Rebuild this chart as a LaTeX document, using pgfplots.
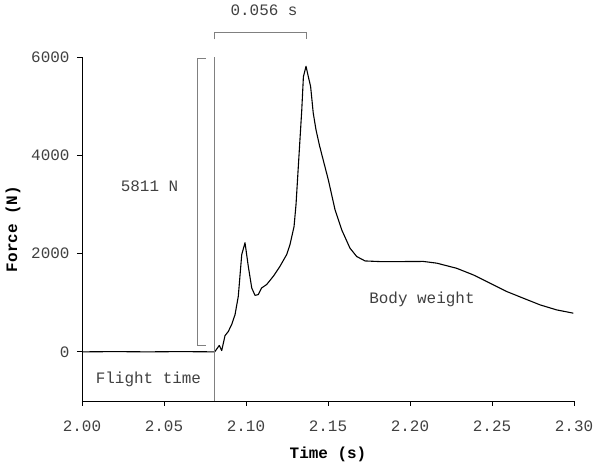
\documentclass[border=0pt]{standalone}
\usepackage{pgfplots}
\pgfplotsset{compat=1.18}
\usepackage{fontspec}
\setmainfont{Liberation Mono}

\newcommand\fs{\fontsize{16}{19}\selectfont}

\begin{document}
\begin{tikzpicture}
\begin{axis}[
    scale only axis,
    width=492bp, height=344bp,
    xmin=2.0, xmax=2.3, ymin=-1000, ymax=6000,
    axis lines*=left,
    axis line style={black, line width=0.8bp},
    xtick={2.00,2.05,...,2.30},
    ytick={0,2000,4000,6000},
    tick align=outside,
    major tick length=5bp,
    tick style={black, line width=0.8bp},
    xticklabel style={yshift=-11bp, /pgf/number format/.cd, fixed, fixed zerofill, precision=2},
    yticklabel style={xshift=-4bp, /pgf/number format/1000 sep={}},
    /pgf/number format/assume math mode=true,
    ticklabel style={font=\fs, text=black!75},
    xlabel={\bfseries Time (s)},
    ylabel={\bfseries Force (N)},
    label style={font=\fs},
    xlabel style={yshift=-9bp},
    ylabel style={yshift=4bp},
    clip=false,
]
\addplot[black, line width=1.1bp, line join=round] coordinates {
(2.000,0) (2.020,5) (2.040,0) (2.060,5) (2.0809,0) (2.0837,130) (2.0852,27)
(2.0872,330) (2.0892,414) (2.0913,560) (2.0933,755) (2.0953,1130) (2.0974,1980)
(2.0994,2220) (2.1014,1740) (2.1035,1300) (2.1055,1150) (2.1075,1165) (2.1095,1300)
(2.1126,1370) (2.1167,1540) (2.1207,1740) (2.1248,1980) (2.1268,2180) (2.1293,2550)
(2.1305,3000) (2.1319,3770) (2.1340,4920) (2.1350,5600) (2.1366,5811) (2.1380,5600)
(2.1394,5400) (2.1410,4860) (2.1427,4515) (2.1448,4200) (2.1468,3940) (2.1502,3500)
(2.1543,2890) (2.1584,2480) (2.1634,2110) (2.1675,1940) (2.1726,1850) (2.1817,1837)
(2.1939,1837) (2.2081,1840) (2.2163,1805) (2.2285,1700) (2.2386,1566) (2.2488,1397)
(2.2590,1227) (2.2691,1092) (2.2793,956) (2.2894,854) (2.2996,787)
};
% flight time marker and brackets
\draw[gray, line width=0.8bp] (axis cs:2.0809,-1000) -- (axis cs:2.0809,6000);
\draw[gray, line width=0.8bp] (axis cs:2.0756,5970) -- (axis cs:2.0703,5970)
    -- (axis cs:2.0703,122) -- (axis cs:2.0756,122);
\draw[gray, line width=0.8bp] (axis cs:2.0809,6360) -- (axis cs:2.0809,6494)
    -- (axis cs:2.1366,6494) -- (axis cs:2.1366,6360);
\node[font=\fs, text=black!75] at (axis cs:2.111,6942) {0.056 s};
\node[font=\fs, text=black!75] at (axis cs:2.0412,3376) {5811 N};
\node[font=\fs, text=black!75] at (axis cs:2.0405,-560) {Flight time};
\node[font=\fs, text=black!75] at (axis cs:2.2073,1058) {Body weight};
\coordinate (BL) at (rel axis cs:0,0);
\end{axis}
\pgfresetboundingbox
\path ([shift={(-82bp,-61bp)}]BL) rectangle ([shift={(518bp,401bp)}]BL);
\end{tikzpicture}
\end{document}
